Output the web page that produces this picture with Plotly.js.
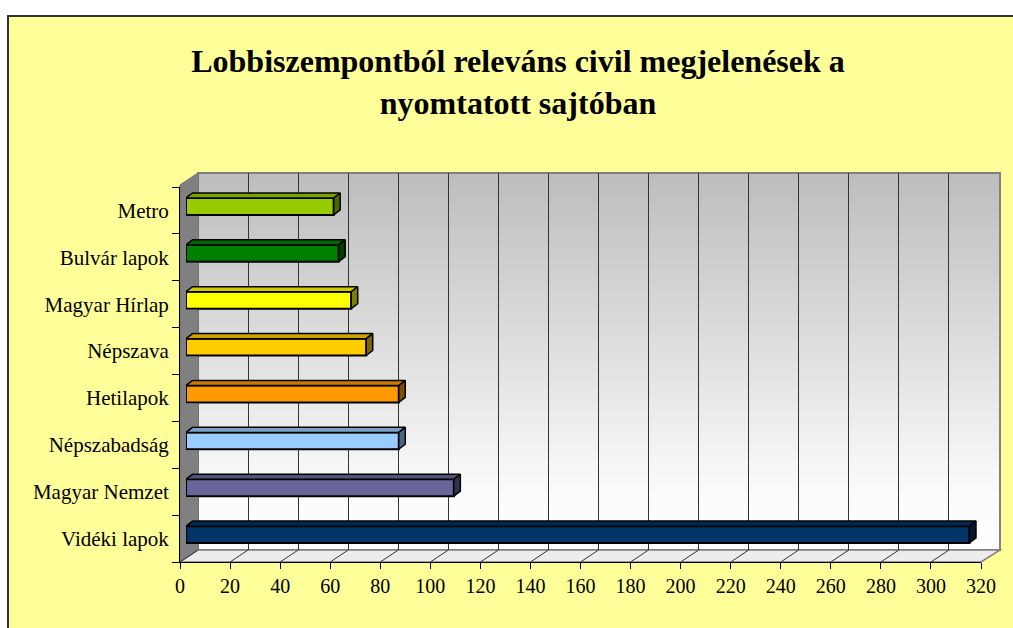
<!DOCTYPE html>
<html>
<head>
<meta charset="utf-8">
<script src="https://cdn.plot.ly/plotly-3.0.1.min.js"></script>
<style>html,body{margin:0;padding:0;background:#fff;}#chart{width:1013px;height:628px;}</style>
</head>
<body>
<div id="chart"></div>
<script>
// ---- data (bottom to top) ----
const categories = ["Vidéki lapok", "Magyar Nemzet", "Népszabadság", "Hetilapok", "Népszava", "Magyar Hírlap", "Bulvár lapok", "Metro"];
const values = [313, 107, 85, 85, 72, 66, 61, 59];
const frontColors = ["#003366", "#666699", "#99CCFF", "#FF9900", "#FFCC00", "#FFFF00", "#008000", "#99CC00"];
const titleText = "Lobbiszempontból releváns civil megjelenések a<br>nyomtatott sajtóban";
const xTickVals = [0,20,40,60,80,100,120,140,160,180,200,220,240,260,280,300,320];

// ---- helpers ----
const W = 1013, H = 628;
const fx = p => p / W;
const fy = p => 1 - p / H;
function shade(hex, k) {
  const n = parseInt(hex.slice(1), 16);
  const r = Math.round(((n >> 16) & 255) * k), g = Math.round(((n >> 8) & 255) * k), b = Math.round((n & 255) * k);
  return `rgb(${r},${g},${b})`;
}
const idx = categories.map((c, i) => i);
const barW = 0.36;
const dX = 2.6;    // bar depth in x units
const dY = 0.107;  // bar depth in y units
// bar plane domain (pixels)
const BX0 = 186, BX1 = 987, BY0 = 183, BY1 = 558;
const unit = (BY1 - BY0) / categories.length;
const pxY = y => BY1 - (y + 0.5) * unit;

const traces = [];
// back wall subplot (xy) and front axes subplot (x2y2): invisible anchor traces
traces.push({type: 'scatter', x: [0, 320], y: [0, 1], xaxis: 'x', yaxis: 'y', mode: 'none', hoverinfo: 'skip', showlegend: false});
traces.push({type: 'scatter', x: values, y: categories, xaxis: 'x2', yaxis: 'y2', mode: 'none', hoverinfo: 'skip', showlegend: false});
// front faces of bars
traces.push({
  type: 'bar', orientation: 'h', x: values, y: idx, xaxis: 'x4', yaxis: 'y4', width: barW,
  marker: {color: frontColors, line: {color: '#000', width: 2}}, hoverinfo: 'skip', showlegend: false
});
// 3D faces (top & side)
values.forEach((v, i) => {
  const t = i + barW / 2, b = i - barW / 2;
  traces.push({
    type: 'scatter', xaxis: 'x4', yaxis: 'y4', mode: 'lines', fill: 'toself',
    x: [0, v, v + dX, dX, 0], y: [t, t, t + dY, t + dY, t],
    fillcolor: shade(frontColors[i], 0.8), line: {color: '#000', width: 1.5}, hoverinfo: 'skip', showlegend: false
  });
  traces.push({
    type: 'scatter', xaxis: 'x4', yaxis: 'y4', mode: 'lines', fill: 'toself',
    x: [v, v + dX, v + dX, v, v], y: [b, b + dY, t + dY, t, b],
    fillcolor: shade(frontColors[i], 0.5), line: {color: '#000', width: 1.5}, hoverinfo: 'skip', showlegend: false
  });
});

// decorative background: chart area, 3D box walls (side wall, floor, gradient back wall)
const bgSvg = `<svg xmlns='http://www.w3.org/2000/svg' width='${W}' height='${H}' viewBox='0 0 ${W} ${H}' preserveAspectRatio='none'>` +
  "<defs><linearGradient id='g' x1='0' y1='0' x2='0' y2='1'><stop offset='0' stop-color='#bdbdbd'/><stop offset='0.85' stop-color='#fbfbfb'/><stop offset='1' stop-color='#ffffff'/></linearGradient></defs>" +
  `<rect x='0' y='0' width='${W}' height='${H}' fill='#ffffff'/>` +
  `<rect x='8' y='16' width='${W + 10}' height='${H + 10}' fill='#FFFF99' stroke='#333333' stroke-width='2'/>` +
  "<rect x='198' y='173' width='802' height='377' fill='url(#g)' stroke='#808080' stroke-width='2'/>" +
  "<polygon points='180,185 198,173 198,550 180,562' fill='#808080' stroke='#666666' stroke-width='1'/>" +
  "<polygon points='180,562 198,550 1000,550 981,562' fill='#EDEDED' stroke='#808080' stroke-width='1.5'/>" +
  "</svg>";
const bgUri = "data:image/svg+xml;charset=utf-8," + encodeURIComponent(bgSvg);

const serif = "'Liberation Serif', 'Times New Roman', serif";
const hidden = {showgrid: false, zeroline: false, showline: false, showticklabels: false, ticks: ''};

// side wall pieces drawn on top, only where no bar is in front of the wall
const yTop = x => 185 - (x - 180) * 12 / 18;
const yBot = x => 562 - (x - 180) * 12 / 18;
function poly(pts) { return 'M ' + pts.map(p => fx(p[0]).toFixed(5) + ' ' + fy(p[1]).toFixed(5)).join(' L ') + ' Z'; }
const wallPieces = [];
wallPieces.push([[180.6, yTop(180.6)], [BX0, yTop(BX0)], [BX0, yBot(BX0)], [180.6, yBot(180.6)]]);
const topOfBar = i => pxY(i + barW / 2 + dY) - 1;
const botOfBar = i => pxY(i - barW / 2) + 1;
const last = categories.length - 1;
wallPieces.push([[BX0, yTop(BX0)], [198, yTop(198)], [198, topOfBar(last)], [BX0, topOfBar(last)]]);
for (let i = 0; i < last; i++) {
  wallPieces.push([[BX0, botOfBar(i + 1)], [198, botOfBar(i + 1)], [198, topOfBar(i)], [BX0, topOfBar(i)]]);
}
wallPieces.push([[BX0, botOfBar(0)], [198, botOfBar(0)], [198, yBot(198)], [BX0, yBot(BX0)]]);

const shapes = wallPieces.map(p => ({type: 'path', xref: 'paper', yref: 'paper', path: poly(p),
  fillcolor: '#808080', line: {width: 0}, layer: 'above'}));
// slanted floor grid lines from the front ticks
xTickVals.forEach(v => {
  shapes.push({type: 'line', xref: 'x2', xsizemode: 'pixel', xanchor: v, x0: 0, x1: 18,
    yref: 'y2 domain', ysizemode: 'pixel', yanchor: 0, y0: 0, y1: 12, line: {color: '#333', width: 1}});
});

const layout = {
  width: W, height: H,
  margin: {l: 0, r: 0, t: 0, b: 0},
  paper_bgcolor: 'rgba(0,0,0,0)',
  plot_bgcolor: 'rgba(0,0,0,0)',
  hovermode: false,
  showlegend: false,
  title: {text: titleText, x: fx(518), xanchor: 'center', y: fy(72), yanchor: 'middle',
          font: {family: serif, size: 32, color: '#000', weight: 'bold'}},
  xaxis: {domain: [fx(198), fx(999)], anchor: 'y', range: [0, 320], tickvals: xTickVals, showgrid: true, gridcolor: '#333', gridwidth: 1,
          zeroline: false, showline: false, showticklabels: false, ticks: ''},
  yaxis: Object.assign({domain: [fy(550), fy(173)], anchor: 'x', range: [0, 1]}, hidden),
  xaxis2: {domain: [fx(180), fx(981)], anchor: 'y2', range: [0, 320], tickvals: xTickVals, showgrid: false, zeroline: false,
           showline: true, linecolor: '#000', linewidth: 1, ticks: 'outside', ticklen: 6, tickcolor: '#000',
           tickfont: {family: serif, size: 20, color: '#000'}},
  yaxis2: {domain: [fy(562), fy(187)], anchor: 'x2', type: 'category', categoryorder: 'array', categoryarray: categories,
           range: [-0.5, 7.5], showgrid: false, zeroline: false, showline: true, linecolor: '#000', linewidth: 1,
           ticks: 'outside', ticklen: 7, tickcolor: '#000', tickson: 'boundaries', ticklabelstandoff: 6,
           tickfont: {family: serif, size: 21, color: '#000'}},
  xaxis4: Object.assign({domain: [fx(BX0), fx(BX1)], anchor: 'y4', range: [0, 320]}, hidden),
  yaxis4: Object.assign({domain: [fy(BY1), fy(BY0)], anchor: 'x4', range: [-0.5, 7.5]}, hidden),
  shapes: shapes,
  images: [{source: bgUri, xref: 'paper', yref: 'paper', x: 0, y: 1, sizex: 1, sizey: 1,
            xanchor: 'left', yanchor: 'top', sizing: 'stretch', layer: 'below'}]
};

Plotly.newPlot('chart', traces, layout, {displayModeBar: false, staticPlot: true});
</script>
</body>
</html>
